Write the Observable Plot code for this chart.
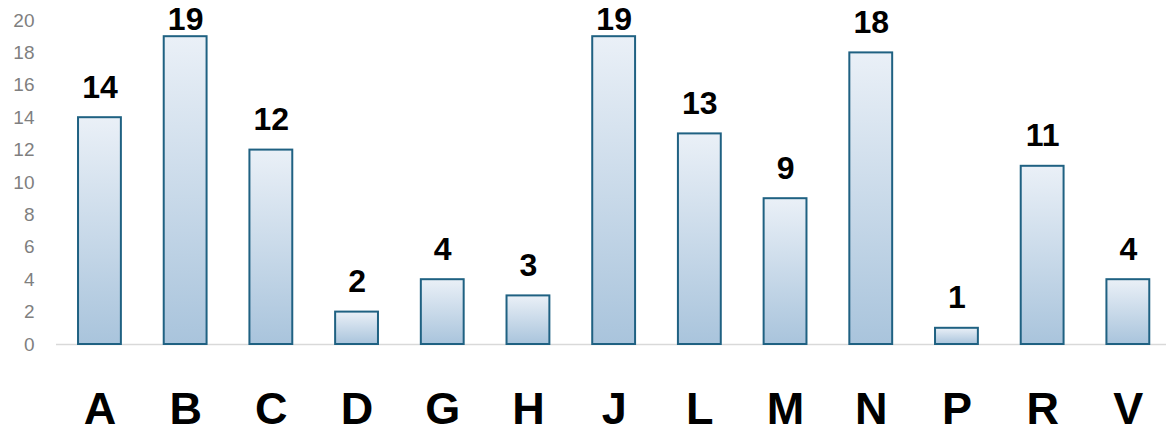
<!DOCTYPE html>
<html>
<head>
<meta charset="utf-8">
<script src="https://cdn.jsdelivr.net/npm/d3@7"></script>
<script src="https://cdn.jsdelivr.net/npm/@observablehq/plot@0.6"></script>
<style>
  html, body { margin: 0; padding: 0; background: #fff; }
  svg { display: block; overflow: visible; }
</style>
</head>
<body>
<div id="chart"></div>
<script>
const categories = ["A","B","C","D","G","H","J","L","M","N","P","R","V"];
const values = [14,19,12,2,4,3,19,13,9,18,1,11,4];
const yTicks = [0,2,4,6,8,10,12,14,16,18,20];

const data = categories.map((c, i) => ({cat: c, value: values[i]}));
const labelStyle = {x: "cat", y: "value", text: d => String(d.value), lineAnchor: "bottom", fontSize: 32, fontWeight: "bold", fill: "#000"};

const chart = Plot.plot({
  width: 1166,
  height: 433,
  marginLeft: 56,
  marginRight: 0,
  marginTop: 20,
  marginBottom: 89,
  style: {fontFamily: "'Liberation Sans', Arial, sans-serif", background: "#fff", overflow: "visible"},
  x: {domain: categories, range: [56.6, 1170.7], paddingInner: 0.5, paddingOuter: 0.25, round: false, label: null},
  y: {domain: [0, 20], range: [344, 20], label: null},
  marks: [
    Plot.ruleY([0], {stroke: "#d9d9d9", strokeWidth: 1.5}),
    Plot.barY(data, {x: "cat", y: "value", fill: "url(#barGrad)", stroke: "#1f6182", strokeWidth: 2}),
    Plot.text(data.filter(d => d.value <= 18), {...labelStyle, dy: -20}),
    Plot.text(data.filter(d => d.value > 18), {...labelStyle, dy: -7}),
    Plot.axisY({ticks: yTicks, tickSize: 0, tickPadding: 22, fontSize: 19, fill: "#7f7f7f", label: null}),
    Plot.axisX({tickSize: 0, tickPadding: 48, fontSize: 45, fontWeight: "bold", fill: "#000", label: null})
  ]
});

const ns = "http://www.w3.org/2000/svg";
const defs = document.createElementNS(ns, "defs");
defs.innerHTML = `<linearGradient id="barGrad" x1="0" y1="0" x2="0" y2="1">
  <stop offset="0" stop-color="#eaf0f7"/>
  <stop offset="1" stop-color="#a9c4dc"/>
</linearGradient>`;
chart.insertBefore(defs, chart.firstChild);
document.getElementById("chart").appendChild(chart);
</script>
</body>
</html>
